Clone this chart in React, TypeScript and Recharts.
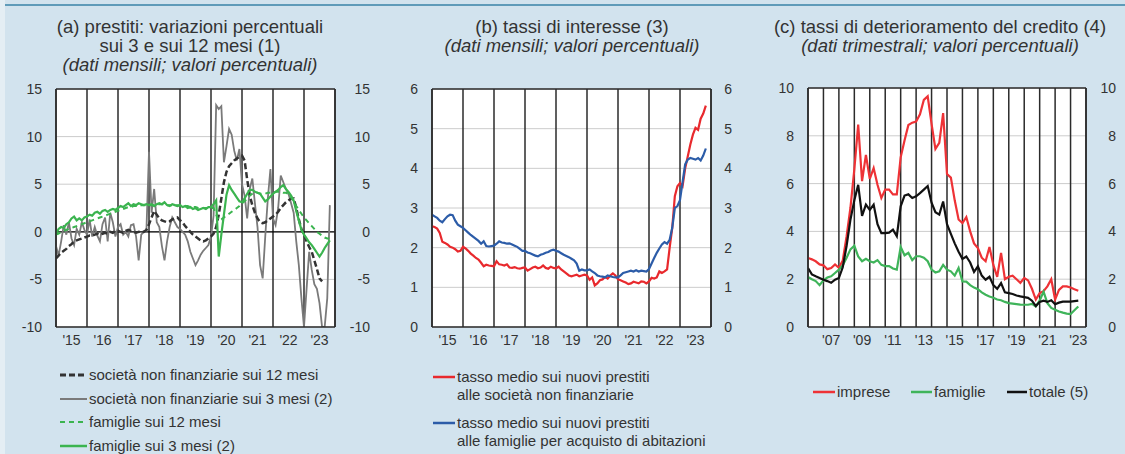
import React from 'react';
import { LineChart, Line, XAxis, YAxis, CartesianGrid, ReferenceLine } from 'recharts';

const FONT = '"Liberation Sans", Arial, Helvetica, sans-serif';
const INK = '#333333';
const FRAME = '#2b2b2b';

// (a) prestiti, monthly values from Jan 2015
const aNfc12 = [
  -2.8, -2.5, -2.2, -2.0, -1.8, -1.5, -1.3, -1.0, -0.9, -0.8, -0.7, -0.6,
  -0.5, -0.4, -0.4, -0.3, -0.2, -0.3, -0.2, -0.1, -0.2, 0.0, -0.1, 0.1,
  0.1, 0.0, -0.1, 0.1, 0.2, 0.1, 0.0, -0.1, 0.0, 0.1, 0.0, 0.2,
  0.8, 1.5, 2.2, 1.8, 1.4, 1.2, 1.1, 1.0, 1.1, 1.3, 1.4, 1.5,
  1.2, 1.0, 0.6, 0.3, 0.0, -0.3, -0.5, -0.7, -0.9, -1.0, -0.9, -0.7,
  -0.5, -0.2, 0.5, 1.8, 3.5, 5.2, 6.3, 6.9, 7.2, 7.5, 7.7, 7.9,
  8.0, 7.5, 5.5, 3.8, 2.8, 2.0, 1.4, 1.0, 0.9, 1.0, 1.2, 1.4,
  1.6, 1.8, 2.1, 2.5, 2.8, 3.1, 3.3, 3.5, 3.5, 2.5, 1.3, 0.3,
  -0.3, -1.0, -1.6, -2.1, -3.0, -3.9, -4.9, -5.2,
];
const aNfc3 = [
  -1.5, -2.5, -1.0, 0.7, -0.3, 1.0, -0.7, -1.4, 0.3, -0.3, 1.0, 0.2,
  -0.3, 1.3, -0.5, 0.5, -0.4, -1.0, 0.8, 1.5, -1.0, 2.0, 1.0, -0.5,
  0.5, 0.8, -0.3, 0.0, -0.5, 0.7, 0.8, -0.5, -3.0, -0.3, 0.0, 0.1,
  8.4, 2.0, 4.5, 1.0, 0.5, -1.5, -3.0, -1.0, 0.5, 1.5, 1.0, 0.5,
  0.3, 0.0, -0.3, -1.0, -2.1, -2.8, -3.5, -3.0, -2.4, -2.0, -1.7, -1.4,
  -0.5, 1.7, 13.3, 12.9, 13.2, 7.3, 9.0, 10.8, 10.2, 8.5, 7.5, 8.7,
  5.0, 3.8, 1.4, 4.5, 5.6, 3.0, 0.5, -3.5, -4.9, -0.5, 3.5, 6.6,
  1.4, 0.7, 2.5, 5.9, 5.2, 4.5, 4.0, 3.0, 2.0, -1.0, -3.5, -7.0,
  -10, -6.0, -2.1, -4.0, -5.5, -6.0, -7.5, -10, -10, -7.0, 2.8,
];
const aHh12 = [
  -0.3, -0.2, 0.0, 0.1, 0.2, 0.3, 0.4, 0.5, 0.6, 0.7, 0.8, 0.9,
  1.0, 1.1, 1.2, 1.3, 1.4, 1.5, 1.6, 1.7, 1.8, 1.9, 2.0, 2.1,
  2.2, 2.3, 2.4, 2.5, 2.6, 2.6, 2.7, 2.7, 2.8, 2.8, 2.8, 2.8,
  2.8, 2.8, 2.8, 2.9, 2.9, 2.9, 2.9, 2.8, 2.8, 2.8, 2.8, 2.8,
  2.8, 2.7, 2.7, 2.7, 2.6, 2.6, 2.6, 2.5, 2.5, 2.5, 2.5, 2.5,
  2.5, 2.5, 1.8, 1.2, 1.3, 1.5, 1.7, 1.9, 2.1, 2.3, 2.5, 2.7,
  3.0, 3.2, 3.5, 3.8, 4.0, 4.1, 4.1, 4.0, 4.0, 4.0, 4.1, 4.1,
  4.1, 4.2, 4.2, 4.2, 4.1, 4.1, 4.0, 3.6, 3.2, 2.7, 2.3, 1.9,
  1.5, 1.2, 0.9, 0.6, 0.3, 0.0, -0.2, -0.4, -0.6, -0.7, -0.7,
];
const aHh3 = [
  -0.2, 0.3, 0.5, 0.4, 0.8, 1.0, 1.4, 1.6, 1.2, 1.4, 1.2, 1.5,
  1.6, 1.8, 1.7, 2.0, 2.1, 1.9, 2.2, 2.3, 2.1, 2.3, 2.4, 2.3,
  2.5, 2.7, 2.6, 2.8, 3.0, 2.7, 2.9, 2.8, 3.0, 2.9, 2.8, 2.9,
  2.8, 2.9, 2.7, 2.9, 3.0, 2.9, 3.1, 2.8, 2.7, 2.9, 2.8, 2.7,
  2.8, 2.6, 2.7, 2.5, 2.6, 2.4, 2.5, 2.3, 2.4, 2.5, 2.4, 2.6,
  2.6, 2.9, 3.3, -2.6, -0.3, 1.8, 3.9, 4.9, 4.4, 4.0, 3.6, 3.2,
  3.1, 3.5, 4.0, 4.4, 4.4, 4.2, 4.1, 4.0, 3.6, 3.2, 3.4, 3.7,
  4.0, 4.2, 4.4, 4.7, 4.9, 4.5, 4.2, 3.8, 3.3, 2.2, 1.2, 0.2,
  -0.3, -0.7, -1.1, -1.4, -1.8, -2.2, -2.6, -2.2, -1.7, -1.3, -0.9,
];
const aYTicks = [-10, -5, 0, 5, 10, 15];

// (b) tassi di interesse, monthly values from Jan 2015
const bNfcRate = [
  2.54, 2.52, 2.48, 2.37, 2.15, 2.12, 2.08, 2.02, 2.0, 1.96, 1.9, 1.92,
  2.02, 1.98, 1.92, 1.85, 1.8, 1.74, 1.7, 1.62, 1.53, 1.57, 1.55, 1.54,
  1.53, 1.66, 1.58, 1.57, 1.55, 1.58, 1.5, 1.49, 1.51, 1.48, 1.47, 1.49,
  1.5, 1.42, 1.46, 1.5, 1.52, 1.48, 1.5, 1.55, 1.49, 1.47, 1.52, 1.49,
  1.48, 1.52, 1.45, 1.4, 1.35, 1.3, 1.28, 1.3, 1.32, 1.28, 1.3, 1.32,
  1.3, 1.19, 1.25, 1.05, 1.1, 1.18, 1.2, 1.26, 1.22, 1.3, 1.35, 1.3,
  1.2, 1.18, 1.15, 1.12, 1.08, 1.1, 1.14, 1.12, 1.1, 1.15, 1.14, 1.1,
  1.15, 1.24, 1.22, 1.25, 1.4, 1.36, 1.4, 1.45, 2.0, 2.5, 3.3, 3.55,
  3.63, 3.55, 4.0, 4.3, 4.6, 4.85, 5.02, 4.97, 5.25, 5.38, 5.58,
];
const bHhRate = [
  2.83, 2.79, 2.75, 2.68, 2.64, 2.72, 2.79, 2.83, 2.82, 2.68, 2.58, 2.54,
  2.5, 2.44, 2.38, 2.32, 2.27, 2.22, 2.17, 2.1, 2.16, 2.04, 2.03, 2.04,
  2.05, 2.1, 2.16, 2.13, 2.12, 2.1, 2.11, 2.08, 2.05, 2.02, 1.97, 1.92,
  1.92, 1.88, 1.86, 1.83, 1.8, 1.78, 1.82, 1.84, 1.87, 1.89, 1.93, 1.95,
  1.92, 1.9, 1.86, 1.82, 1.79, 1.76, 1.72, 1.68, 1.6, 1.42, 1.45, 1.43,
  1.43, 1.45, 1.4, 1.36, 1.3, 1.28, 1.27, 1.25, 1.3, 1.28, 1.26, 1.25,
  1.25, 1.3, 1.36, 1.38, 1.4, 1.42, 1.4, 1.43, 1.4, 1.42, 1.41, 1.4,
  1.46, 1.6, 1.74, 1.87, 1.98, 2.08, 2.14, 2.1, 2.2, 2.5, 3.0, 3.05,
  3.2, 3.65, 4.1, 4.22, 4.26, 4.24, 4.22, 4.26, 4.2, 4.32, 4.5,
];
const bYTicks = [0, 1, 2, 3, 4, 5, 6];

// (c) tassi di deterioramento, quarterly values from 2006 Q1
const cImprese = [
  2.89, 2.83, 2.75, 2.62, 2.58, 2.42, 2.47, 2.62, 2.48, 2.78,
  3.8, 5.0, 6.6, 8.47, 6.1, 7.2, 6.2, 6.65, 5.95, 5.4,
  5.75, 5.75, 5.55, 5.55, 7.1, 7.8, 8.45, 8.55, 8.6, 8.9,
  9.5, 9.65, 8.5, 7.45, 7.7, 8.95, 6.4, 6.25, 5.3, 4.5,
  4.35, 4.6, 4.0, 3.5, 3.3, 2.9, 2.75, 3.35, 2.6, 2.1,
  3.1, 2.0, 2.1, 2.15, 2.0, 1.85, 2.05, 1.95, 1.6, 1.15,
  1.42, 1.5, 1.7, 2.0, 1.15, 1.55, 1.7, 1.7, 1.65, 1.58,
  1.52,
];
const cFamiglie = [
  2.09, 2.0, 1.92, 1.75, 1.95, 2.07, 2.12, 2.26, 2.4, 2.58,
  2.9, 3.25, 3.4, 2.95, 2.75, 2.85, 2.75, 2.7, 2.8, 2.6,
  2.55, 2.55, 2.45, 2.4, 3.35, 3.0, 3.1, 2.8, 2.96, 2.96,
  2.9, 2.75, 2.4, 2.28, 2.33, 2.6, 2.4, 2.33, 2.15, 2.47,
  1.91, 1.9, 1.75, 1.65, 1.58, 1.45, 1.35, 1.28, 1.22, 1.15,
  1.12, 1.05, 1.0, 0.98, 0.96, 0.94, 0.93, 0.93, 0.97, 0.86,
  1.1, 1.48, 1.0, 0.8, 0.72, 0.65, 0.6, 0.56, 0.54, 0.7,
  0.86,
];
const cTotale = [
  2.47, 2.2, 2.12, 2.05, 1.98, 1.92, 1.85, 1.98, 2.05, 2.5,
  3.4, 4.5, 5.3, 5.95, 4.65, 5.12, 4.9, 5.12, 4.3, 3.93,
  3.93, 3.95, 4.07, 3.8, 5.05, 5.5, 5.55, 5.4, 5.47, 5.6,
  5.75, 5.9, 5.2, 4.8, 4.7, 5.25, 4.3, 3.9, 3.5, 3.15,
  2.85, 2.95, 2.7, 2.3, 2.54, 2.15, 1.98, 2.1, 1.75, 1.6,
  1.84, 1.45, 1.42, 1.38, 1.32, 1.28, 1.25, 1.22, 1.1, 0.88,
  1.05, 1.1, 1.05, 1.12, 0.95, 1.02, 1.06, 1.06, 1.06, 1.08,
  1.1,
];
const cYTicks = [0, 2, 4, 6, 8, 10];
const cLabelYears = [2007, 2009, 2011, 2013, 2015, 2017, 2019, 2021, 2023];

const range = (from: number, to: number) => Array.from({ length: to - from + 1 }, (_, i) => from + i);

const monthlyRows = (start: number, cols: Record<string, number[]>) => {
  const n = Math.max(...Object.values(cols).map((c) => c.length));
  return Array.from({ length: n }, (_, i) => {
    const row: Record<string, number | null> = { t: start + i / 12 };
    for (const k of Object.keys(cols)) row[k] = cols[k][i] ?? null;
    return row;
  });
};

const quarterlyRows = (start: number, cols: Record<string, number[]>) => {
  const n = Math.max(...Object.values(cols).map((c) => c.length));
  return Array.from({ length: n }, (_, i) => {
    const row: Record<string, number | null> = { t: start + i / 4 };
    for (const k of Object.keys(cols)) row[k] = cols[k][i] ?? null;
    return row;
  });
};

const dataA = monthlyRows(2015, { nfc3: aNfc3, nfc12: aNfc12, hh12: aHh12, hh3: aHh3 });
const dataB = monthlyRows(2015, { nfc: bNfcRate, hh: bHhRate });
const dataC = quarterlyRows(2006, { imprese: cImprese, famiglie: cFamiglie, totale: cTotale });

const textStyle = { fontFamily: FONT, fill: INK };

const LeftTick = (props: any) => (
  <text x={props.x} y={props.y} dy="0.36em" textAnchor="end" fontSize={14} style={textStyle}>
    {props.payload.value}
  </text>
);

const RightTick = (props: any) => (
  <text x={props.x + props.shift} y={props.y} dy="0.36em" textAnchor="end" fontSize={14} style={textStyle}>
    {props.payload.value}
  </text>
);

const YearLabel = (props: any) => (
  <text x={props.x} y={props.y} dy="0.71em" textAnchor="middle" fontSize={14} style={textStyle}>
    {"'" + String(Math.floor(props.payload.value)).slice(2)}
  </text>
);

const NoLabel = () => <g />;

type SeriesDef = { key: string; color: string; width: number; dash?: string };

type PanelProps = {
  left: number;
  top: number;
  width: number;
  height: number;
  margin: { top: number; right: number; bottom: number; left: number };
  rightWidth: number;
  rightShift: number;
  data: any[];
  series: SeriesDef[];
  xDomain: [number, number];
  yDomain: [number, number];
  yTicks: number[];
  labelTicks: number[];
  minorTicks: number[];
  zeroLine?: boolean;
};

function Panel(p: PanelProps) {
  const years = range(p.xDomain[0], p.xDomain[1]);
  return (
    <div style={{ position: 'absolute', left: p.left, top: p.top }}>
      <LineChart width={p.width} height={p.height} data={p.data} margin={p.margin}>
        <CartesianGrid vertical={false} stroke="#cccccc" fill="#ffffff" fillOpacity={1} />
        <XAxis
          type="number"
          dataKey="t"
          domain={p.xDomain}
          ticks={p.labelTicks}
          interval={0}
          allowDataOverflow
          height={25}
          tickSize={0}
          tickMargin={8}
          tickLine={false}
          axisLine={{ stroke: FRAME, strokeWidth: 1.5 }}
          tick={YearLabel}
        />
        <XAxis
          xAxisId="minor"
          type="number"
          dataKey="t"
          domain={p.xDomain}
          ticks={p.minorTicks}
          interval={0}
          allowDataOverflow
          mirror
          height={0}
          tickSize={3}
          tickLine={{ stroke: FRAME, strokeWidth: 1 }}
          axisLine={false}
          tick={NoLabel}
        />
        <XAxis
          xAxisId="mid"
          type="number"
          dataKey="t"
          domain={p.xDomain}
          ticks={p.labelTicks}
          interval={0}
          allowDataOverflow
          mirror
          height={0}
          tickSize={6}
          tickLine={{ stroke: FRAME, strokeWidth: 1 }}
          axisLine={false}
          tick={NoLabel}
        />
        <YAxis
          type="number"
          domain={p.yDomain}
          ticks={p.yTicks}
          interval={0}
          allowDataOverflow
          width={40}
          tickSize={0}
          tickMargin={14}
          tickLine={false}
          axisLine={{ stroke: FRAME, strokeWidth: 1.5 }}
          tick={LeftTick}
        />
        <YAxis
          yAxisId="r"
          orientation="right"
          type="number"
          domain={p.yDomain}
          ticks={p.yTicks}
          interval={0}
          allowDataOverflow
          width={p.rightWidth}
          tickSize={0}
          tickMargin={0}
          tickLine={false}
          axisLine={{ stroke: FRAME, strokeWidth: 1.5 }}
          tick={<RightTick shift={p.rightShift} />}
        />
        {years.map((y) => (
          <ReferenceLine key={y} x={y} stroke={FRAME} strokeWidth={1.5} />
        ))}
        <ReferenceLine y={p.yDomain[1]} stroke={FRAME} strokeWidth={1.5} />
        {p.zeroLine && <ReferenceLine y={0} stroke="#000000" strokeWidth={1.3} />}
        {p.series.map((s) => (
          <Line
            key={s.key}
            type="linear"
            dataKey={s.key}
            stroke={s.color}
            strokeWidth={s.width}
            strokeDasharray={s.dash}
            dot={false}
            activeDot={false}
            isAnimationActive={false}
          />
        ))}
      </LineChart>
    </div>
  );
}

const Swatch = ({ color, dash, width = 27, sw = 2.5 }: { color: string; dash?: string; width?: number; sw?: number }) => (
  <svg width={width} height={10} style={{ flex: 'none', marginRight: 2 }}>
    <line x1={0} y1={5} x2={width} y2={5} stroke={color} strokeWidth={sw} strokeDasharray={dash} />
  </svg>
);

const Item = ({ left, top, color, dash, sw, width, lines }: any) => (
  <div style={{ position: 'absolute', left, top, display: 'flex', alignItems: 'flex-start' }}>
    <div style={{ height: 19, display: 'flex', alignItems: 'center' }}>
      <Swatch color={color} dash={dash} sw={sw} width={width} />
    </div>
    <div style={{ fontSize: 15, lineHeight: '18px', color: INK, whiteSpace: 'nowrap', paddingTop: 1 }}>
      {lines.map((l: string, i: number) => (
        <div key={i}>{l}</div>
      ))}
    </div>
  </div>
);

const Title = ({ center, lines, italic }: { center: number; lines: string[]; italic: string }) => (
  <div
    style={{
      position: 'absolute',
      left: center - 200,
      width: 400,
      top: 17,
      textAlign: 'center',
      fontSize: 18.5,
      lineHeight: '19px',
      color: INK,
    }}
  >
    {lines.map((l, i) => (
      <div key={i}>{l}</div>
    ))}
    <div style={{ fontStyle: 'italic' }}>{italic}</div>
  </div>
);

const monthTicks = (from: number, to: number) => range(0, (to - from) * 12).map((i) => from + i / 12);
const quarterTicks = (from: number, to: number) => range(0, (to - from) * 4).map((i) => from + i / 4);

export default function App() {
  const GREEN = '#3bb44f';
  return (
    <div
      style={{
        position: 'absolute',
        left: 0,
        top: 0,
        width: 1125,
        height: 454,
        overflow: 'hidden',
        background: '#d2e3ee',
        fontFamily: FONT,
      }}
    >
      <div style={{ position: 'absolute', left: 0, top: 0, width: 5, height: 454, background: '#e4eef4' }} />
      <div style={{ position: 'absolute', left: 5, top: 4, width: 1120, height: 2, background: '#5f9bb9' }} />

      <Title center={190} lines={['(a) prestiti: variazioni percentuali', 'sui 3 e sui 12 mesi (1)']} italic="(dati mensili; valori percentuali)" />
      <Title center={572} lines={['(b) tassi di interesse (3)']} italic="(dati mensili; valori percentuali)" />
      <Title center={940} lines={['(c) tassi di deterioramento del credito (4)']} italic="(dati trimestrali; valori percentuali)" />

      <Panel
        left={0}
        top={78}
        width={390}
        height={280}
        margin={{ top: 11, right: 15, bottom: 6, left: 16 }}
        rightWidth={40}
        rightShift={35}
        data={dataA}
        series={[
          { key: 'nfc3', color: '#7a7a7a', width: 1.8 },
          { key: 'nfc12', color: '#333333', width: 2.5, dash: '6 3' },
          { key: 'hh12', color: GREEN, width: 2, dash: '5 4' },
          { key: 'hh3', color: GREEN, width: 2.2 },
        ]}
        xDomain={[2015, 2024]}
        yDomain={[-10, 15]}
        yTicks={aYTicks}
        labelTicks={range(2015, 2023).map((y) => y + 0.5)}
        minorTicks={monthTicks(2015, 2024)}
        zeroLine
      />
      <Panel
        left={380}
        top={78}
        width={390}
        height={280}
        margin={{ top: 11, right: 19, bottom: 6, left: 12 }}
        rightWidth={40}
        rightShift={21}
        data={dataB}
        series={[
          { key: 'nfc', color: '#e8292d', width: 2.2 },
          { key: 'hh', color: '#2c5ca8', width: 2.2 },
        ]}
        xDomain={[2015, 2024]}
        yDomain={[0, 6]}
        yTicks={bYTicks}
        labelTicks={range(2015, 2023).map((y) => y + 0.5)}
        minorTicks={monthTicks(2015, 2024)}
      />
      <Panel
        left={755}
        top={78}
        width={370}
        height={280}
        margin={{ top: 10, right: 4, bottom: 6, left: 13 }}
        rightWidth={35}
        rightShift={30}
        data={dataC}
        series={[
          { key: 'imprese', color: '#ee3236', width: 2.2 },
          { key: 'famiglie', color: '#3fb45a', width: 2.2 },
          { key: 'totale', color: '#111111', width: 2.2 },
        ]}
        xDomain={[2006, 2024]}
        yDomain={[0, 10]}
        yTicks={cYTicks}
        labelTicks={cLabelYears.map((y) => y + 0.5)}
        minorTicks={quarterTicks(2006, 2024)}
      />

      <Item left={60} top={365} color="#333333" dash="6 3" sw={3} width={27} lines={['società non finanziarie sui 12 mesi']} />
      <Item left={60} top={389} color="#7a7a7a" sw={2} width={27} lines={['società non finanziarie sui 3 mesi (2)']} />
      <Item left={60} top={412} color={GREEN} dash="5 4" sw={2} width={27} lines={['famiglie sui 12 mesi']} />
      <Item left={60} top={436} color={GREEN} sw={2.5} width={27} lines={['famiglie sui 3 mesi (2)']} />

      <Item left={433} top={367} color="#e8292d" sw={2.5} width={22} lines={['tasso medio sui nuovi prestiti', 'alle società non finanziarie']} />
      <Item left={433} top={413} color="#2c5ca8" sw={2.5} width={22} lines={['tasso medio sui nuovi prestiti', 'alle famiglie per acquisto di abitazioni']} />

      <Item left={813} top={382} color="#ee3236" sw={2.5} width={22} lines={['imprese']} />
      <Item left={911} top={382} color="#3fb45a" sw={2.5} width={21} lines={['famiglie']} />
      <Item left={1007} top={382} color="#111111" sw={2.5} width={20} lines={['totale (5)']} />
    </div>
  );
}
